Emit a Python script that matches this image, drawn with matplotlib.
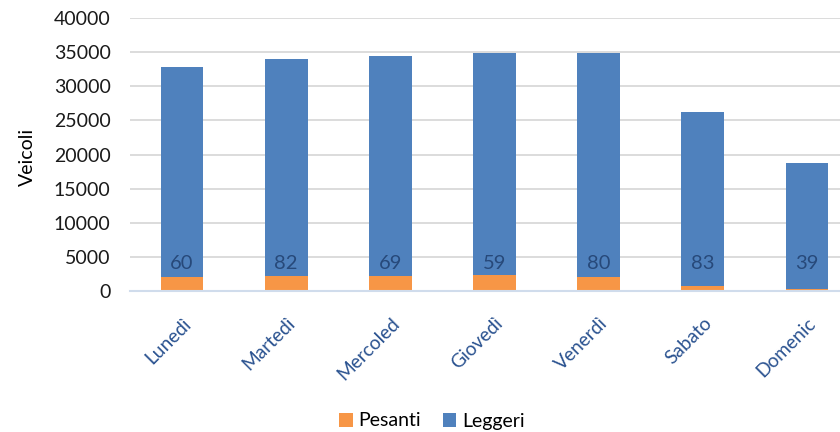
import matplotlib
matplotlib.use("Agg")
import matplotlib.pyplot as plt
import numpy as np

giorni = ["Lunedì", "Martedì", "Mercoled", "Giovedì", "Venerdì", "Sabato", "Domenic"]
pesanti = [2050, 2200, 2200, 2350, 2050, 730, 250]
leggeri = [30750, 31800, 32250, 32520, 32820, 25470, 18550]
etichette = [60, 82, 69, 59, 80, 83, 39]
yticks = [0, 5000, 10000, 15000, 20000, 25000, 30000, 35000, 40000]

C_ORANGE = "#F79646"
C_BLUE = "#4F81BD"
FONT = "Lato"
plt.rcParams["font.family"] = [FONT, "DejaVu Sans"]

fig = plt.figure(figsize=(8.4, 4.32), dpi=100)
ax = fig.add_axes([130 / 840, (432 - 291) / 432, (859 - 130) / 840, 273 / 432])

x = np.arange(len(giorni))
w = 0.41
ax.bar(x, pesanti, w, color=C_ORANGE, label="Pesanti", zorder=3)
ax.bar(x, leggeri, w, bottom=pesanti, color=C_BLUE, label="Leggeri", zorder=3)

for xi, lab in zip(x, etichette):
    ax.text(xi, 4050, str(lab), ha="center", va="center", fontsize=14.5,
            color="#27497A", zorder=4)

ax.set_xlim(-0.5, len(giorni) - 0.5)
ax.set_ylim(0, 40000)
ax.set_yticks(yticks)
ax.set_yticklabels([str(v) for v in yticks], fontsize=14, color="#1A1A1A")
ax.yaxis.grid(True, color="#D9D9D9", linewidth=1.3, zorder=0)
ax.set_axisbelow(True)
for s in ["top", "right", "left"]:
    ax.spines[s].set_visible(False)
ax.spines["bottom"].set_color("#D0DCEC")
ax.spines["bottom"].set_linewidth(1.5)
ax.spines["bottom"].set_zorder(5)
ax.tick_params(axis="y", length=0, pad=14)
ax.tick_params(axis="x", length=0, pad=17)
ax.set_xticks(x)
ax.set_xticklabels(giorni, rotation=45, ha="right", va="top", rotation_mode="anchor",
                   fontsize=13.8, color="#2A5290")
ax.set_ylabel("Veicoli", fontsize=14, color="#000000")
ax.yaxis.set_label_coords(-(130 - 36) / 729, (291 - 157) / 273, transform=ax.transAxes)

handles, labels = ax.get_legend_handles_labels()
fig.legend(handles, labels, loc="center", bbox_to_anchor=(432 / 840, (432 - 421) / 432),
           ncol=2, frameon=False, fontsize=14, handlelength=0.7, handleheight=0.7,
           handletextpad=0.3, columnspacing=1.1, borderaxespad=0, borderpad=0)

fig.savefig("out.png", dpi=100)
